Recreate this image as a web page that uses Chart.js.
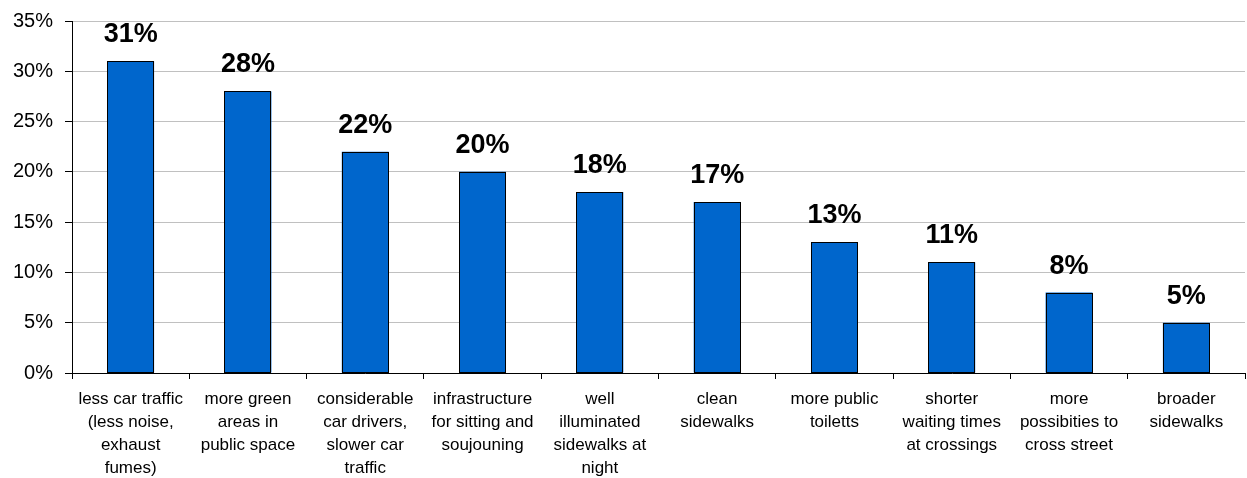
<!DOCTYPE html>
<html>
<head>
<meta charset="utf-8">
<script src="https://cdn.jsdelivr.net/npm/chart.js@4.4.0/dist/chart.umd.min.js"></script>
<style>
html,body{margin:0;padding:0;background:#fff;}
#wrap{width:1247px;height:478px;position:relative;}
</style>
</head>
<body>
<div id="wrap"><canvas id="c"></canvas></div>
<script>
const categories = [
  ["less car traffic", "(less noise,", "exhaust", "fumes)"],
  ["more green", "areas in", "public space"],
  ["considerable", "car drivers,", "slower car", "traffic"],
  ["infrastructure", "for sitting and", "soujouning"],
  ["well", "illuminated", "sidewalks at", "night"],
  ["clean", "sidewalks"],
  ["more public", "toiletts"],
  ["shorter", "waiting times", "at crossings"],
  ["more", "possibities to", "cross street"],
  ["broader", "sidewalks"]
];
const values = [31, 28, 22, 20, 18, 17, 13, 11, 8, 5];
const yTicks = [0, 5, 10, 15, 20, 25, 30, 35];

const FONT = "'Liberation Sans', Arial, sans-serif";

const valueLabels = {
  id: 'valueLabels',
  afterDatasetsDraw(chart) {
    const ctx = chart.ctx;
    const meta = chart.getDatasetMeta(0);
    ctx.save();
    // crisp bar outlines
    ctx.strokeStyle = "#000";
    ctx.lineWidth = 1;
    meta.data.forEach((bar) => {
      const l = Math.round(bar.x - bar.width / 2) + 0.5;
      const r = Math.round(bar.x + bar.width / 2) - 0.5;
      const t = Math.round(bar.y) + 0.5;
      const b = Math.round(bar.base) - 0.5;
      ctx.strokeRect(l, t, r - l, b - t);
    });
    ctx.font = "bold 27px " + FONT;
    ctx.fillStyle = "#000";
    ctx.textAlign = "center";
    ctx.textBaseline = "alphabetic";
    meta.data.forEach((bar, i) => {
      ctx.fillText(values[i] + "%", bar.x, bar.y - 19);
    });
    ctx.restore();
  }
};

new Chart(document.getElementById('c'), {
  type: 'bar',
  data: {
    labels: categories,
    datasets: [{
      data: values,
      backgroundColor: '#0066CC',
      borderColor: '#000000',
      borderWidth: 0,
      borderSkipped: false,
      barPercentage: 0.4,
      categoryPercentage: 1.0
    }]
  },
  options: {
    responsive: true,
    maintainAspectRatio: false,
    animation: false,
    layout: { padding: { left: 0, right: 2, top: 21, bottom: 0 } },
    plugins: { legend: { display: false }, tooltip: { enabled: false } },
    scales: {
      x: {
        offset: true,
        grid: { display: true, drawOnChartArea: false, offset: true, tickLength: 6, color: '#000', tickColor: '#000' },
        border: { display: true, color: '#000', width: 1 },
        ticks: { color: '#000', font: { family: FONT, size: 17, lineHeight: 1.35 }, padding: 9, maxRotation: 0, autoSkip: false },
        afterFit(scale) { scale.height = 105; scale.paddingLeft = 0; scale.paddingRight = 0; }
      },
      y: {
        min: 0, max: 35,
        afterBuildTicks(scale) { scale.ticks = yTicks.map(v => ({ value: v })); },
        grid: { color: '#c0c0c0', tickColor: '#000', tickLength: 7, lineWidth: 1 },
        border: { display: true, color: '#000', width: 1 },
        ticks: { color: '#000', font: { family: FONT, size: 20 }, padding: 12, callback: v => v + '%' },
        afterFit(scale) { scale.width = 72; scale.paddingTop = 0; scale.paddingBottom = 0; }
      }
    }
  },
  plugins: [valueLabels]
});
</script>
</body>
</html>
